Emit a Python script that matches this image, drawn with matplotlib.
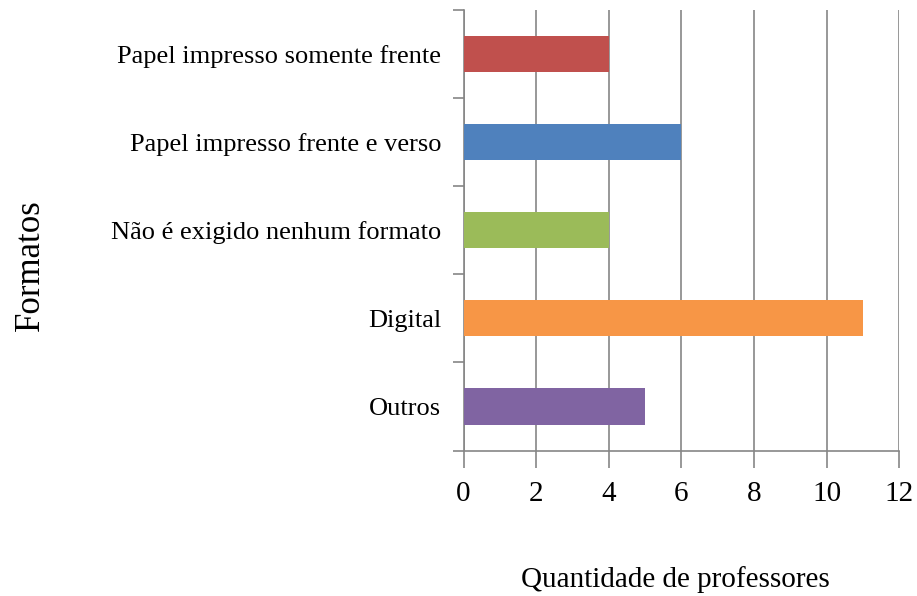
import matplotlib.pyplot as plt

categorias = ['Papel impresso somente frente', 'Papel impresso frente e verso',
              'Não é exigido nenhum formato', 'Digital', 'Outros']
valores = [4, 6, 4, 11, 5]
cores = ['#C0504D', '#4F81BD', '#9BBB59', '#F79646', '#8064A2']

plt.rcParams['font.family'] = ['Liberation Serif', 'DejaVu Serif']

fig = plt.figure(figsize=(9.17, 5.96), dpi=100)
ax = fig.add_axes([0.5055, 0.2438, 0.475, 0.7402])

pos = list(range(len(categorias)))
ax.barh(pos, valores, height=0.41, color=cores, zorder=3)
ax.set_yticks(pos)
ax.set_yticklabels(categorias, fontsize=19)
ax.set_ylim(len(categorias) - 0.5, -0.5)
ax.set_yticks([i - 0.5 for i in range(len(categorias) + 1)], minor=True)
ax.tick_params(axis='y', which='major', length=0, pad=16)
ax.tick_params(axis='y', which='minor', length=8, color='#868686', width=1.2)

ax.set_xlim(0, 12)
ax.set_xticks(range(0, 13, 2))
ax.tick_params(axis='x', length=12, color='#868686', width=1.2, labelsize=21, pad=10)
ax.grid(axis='x', color='#868686', linewidth=1.2, zorder=0)

for s in ['top', 'right']:
    ax.spines[s].set_visible(False)
for s in ['left', 'bottom']:
    ax.spines[s].set_color('#868686')
    ax.spines[s].set_linewidth(1.2)

fig.text(0.736, 0.027, 'Quantidade de professores', fontsize=21, va='center', ha='center')
fig.text(0.033, 0.555, 'Formatos', fontsize=25, rotation=90, va='center', ha='center')

fig.savefig('out.png')
